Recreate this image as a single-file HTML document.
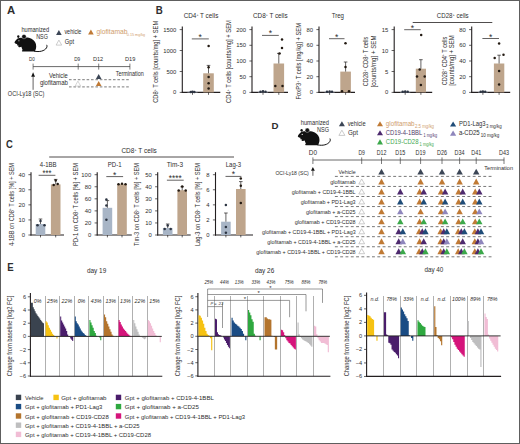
<!DOCTYPE html>
<html><head><meta charset="utf-8"><style>
html,body{margin:0;padding:0;background:#fff;}
svg{display:block;}
text{font-family:"Liberation Sans", sans-serif;}
</style></head><body>
<svg width="520" height="444" viewBox="0 0 520 444">
<rect x="0" y="0" width="520" height="444" fill="#fff"/>
<g fill="#2e2e2e">
<text x="7.00" y="13.60" font-size="10" textLength="8.20" lengthAdjust="spacingAndGlyphs" font-weight="bold">A</text>
<g transform="translate(0,0) scale(1.0)">
<path d="M14.5,42.8 C14.8,41.4 16.2,39.6 17.6,38.6 C19.2,37.5 21.5,37.4 23.0,38.0 C25.5,37.3 29.0,37.5 31.5,38.8 C34.6,40.4 36.3,43.2 36.2,46.4 C36.1,48.8 35.4,50.6 34.6,51.5 L22.4,51.5 C21.6,51.2 21.8,50.3 22.6,49.9 C22.0,48.8 21.6,47.6 21.4,46.8 C20.6,47.2 19.4,47.4 18.6,47.0 C18.0,46.6 18.3,46.0 19.0,45.7 C18.0,45.5 17.4,45.6 17.0,45.2 C16.7,44.8 17.0,44.4 17.6,44.2 C16.4,44.0 15.0,43.6 14.5,42.8 Z" fill="#111"/>
<ellipse cx="18.3" cy="36.6" rx="1.15" ry="1.4" fill="#111"/>
<circle cx="24.0" cy="36.6" r="2.2" fill="#111" stroke="#fff" stroke-width="0.35"/>
<circle cx="18.9" cy="40.7" r="0.55" fill="#fff"/>
<path d="M34.4,51.2 C39.5,52.3 44.5,51.0 46.4,48.0 C47.2,46.8 47.1,45.8 46.8,45.2" fill="none" stroke="#111" stroke-width="1.0" stroke-linecap="round"/>
</g>
<text x="21.40" y="31.80" font-size="6.4" textLength="27.80" lengthAdjust="spacingAndGlyphs">humanized</text>
<text x="36.20" y="38.50" font-size="6.8" textLength="11.70" lengthAdjust="spacingAndGlyphs">NSG</text>
<path d="M58.90,30.00L61.70,35.00L56.10,35.00Z" fill="#3c4656"/>
<text x="64.40" y="34.20" font-size="6.6" textLength="17.00" lengthAdjust="spacingAndGlyphs">vehicle</text>
<path d="M58.90,40.10L61.70,45.10L56.10,45.10Z" fill="none" stroke="#b8b8b8" stroke-width="0.7" stroke-linejoin="round"/>
<text x="64.80" y="43.90" font-size="6.6" textLength="9.20" lengthAdjust="spacingAndGlyphs">Gpt</text>
<path d="M90.90,29.60L93.70,34.60L88.10,34.60Z" fill="#c07a35"/>
<text x="96.50" y="34.00" font-size="6.6" textLength="31.00" lengthAdjust="spacingAndGlyphs" fill="#cf9d6c">glofitamab</text>
<text x="126.80" y="35.90" font-size="4.4" textLength="18.40" lengthAdjust="spacingAndGlyphs" fill="#cf9d6c">0.15 mg/kg</text>
<text x="32.00" y="61.00" font-size="6.0" text-anchor="middle" textLength="5.80" lengthAdjust="spacingAndGlyphs">D0</text>
<text x="77.20" y="61.00" font-size="6.0" text-anchor="middle" textLength="6.00" lengthAdjust="spacingAndGlyphs">D9</text>
<text x="98.00" y="61.00" font-size="6.0" text-anchor="middle" textLength="10.20" lengthAdjust="spacingAndGlyphs">D12</text>
<text x="130.10" y="61.00" font-size="6.0" text-anchor="middle" textLength="10.40" lengthAdjust="spacingAndGlyphs">D19</text>
<line x1="33.10" y1="66.60" x2="130.00" y2="66.60" stroke="#444" stroke-width="0.8"/>
<line x1="33.10" y1="63.60" x2="33.10" y2="69.60" stroke="#444" stroke-width="0.7"/>
<line x1="78.20" y1="63.60" x2="78.20" y2="69.60" stroke="#444" stroke-width="0.7"/>
<line x1="98.70" y1="63.60" x2="98.70" y2="69.60" stroke="#444" stroke-width="0.7"/>
<line x1="129.90" y1="63.60" x2="129.90" y2="69.60" stroke="#444" stroke-width="0.7"/>
<path d="M33.1,72.3 L35.0,76.8 L31.2,76.8 Z" fill="#111"/>
<line x1="33.10" y1="76.50" x2="33.10" y2="89.80" stroke="#231f20" stroke-width="0.7"/>
<text x="49.00" y="78.00" font-size="6.4" textLength="18.80" lengthAdjust="spacingAndGlyphs">Vehicle</text>
<text x="39.90" y="85.00" font-size="6.4" textLength="28.00" lengthAdjust="spacingAndGlyphs">glofitamab</text>
<text x="115.80" y="76.40" font-size="6.5" textLength="28.00" lengthAdjust="spacingAndGlyphs">Termination</text>
<text x="7.80" y="95.50" font-size="6.4" textLength="36.60" lengthAdjust="spacingAndGlyphs">OCI-Ly18 (SC)</text>
<line x1="69.00" y1="79.70" x2="130.50" y2="79.70" stroke="#444" stroke-width="0.7" stroke-dasharray="2.6 1.8"/>
<line x1="69.00" y1="86.90" x2="130.50" y2="86.90" stroke="#444" stroke-width="0.7" stroke-dasharray="2.6 1.8"/>
<path d="M98.70,73.90L101.50,78.90L95.90,78.90Z" fill="#3c4656"/>
<path d="M98.70,81.10L101.50,86.10L95.90,86.10Z" fill="#c07a35"/>
<path d="M77.90,81.10L80.70,86.10L75.10,86.10Z" fill="none" stroke="#c4c4c4" stroke-width="0.7" stroke-linejoin="round"/>
<text x="155.80" y="13.60" font-size="10" textLength="7.00" lengthAdjust="spacingAndGlyphs" font-weight="bold">B</text>
<line x1="182.30" y1="26.50" x2="182.30" y2="93.00" stroke="#231f20" stroke-width="1.1"/>
<line x1="181.80" y1="92.40" x2="220.30" y2="92.40" stroke="#231f20" stroke-width="1.1"/>
<line x1="179.70" y1="29.60" x2="182.30" y2="29.60" stroke="#231f20" stroke-width="0.7"/>
<text x="176.30" y="31.60" font-size="5.9" text-anchor="end">1500</text>
<line x1="179.70" y1="50.50" x2="182.30" y2="50.50" stroke="#231f20" stroke-width="0.7"/>
<text x="176.30" y="52.50" font-size="5.9" text-anchor="end">1000</text>
<line x1="179.70" y1="71.50" x2="182.30" y2="71.50" stroke="#231f20" stroke-width="0.7"/>
<text x="176.30" y="73.50" font-size="5.9" text-anchor="end">500</text>
<line x1="179.70" y1="92.40" x2="182.30" y2="92.40" stroke="#231f20" stroke-width="0.7"/>
<text x="176.30" y="94.40" font-size="5.9" text-anchor="end">0</text>
<rect x="187.40" y="91.80" width="10.20" height="0.60" fill="#a8b5c6"/>
<line x1="192.50" y1="92.40" x2="192.50" y2="94.80" stroke="#231f20" stroke-width="0.7"/>
<rect x="203.20" y="73.30" width="10.60" height="19.10" fill="#bea58c"/>
<line x1="208.50" y1="65.40" x2="208.50" y2="73.30" stroke="#231f20" stroke-width="0.7"/>
<line x1="206.70" y1="65.40" x2="210.30" y2="65.40" stroke="#231f20" stroke-width="0.7"/>
<line x1="208.50" y1="92.40" x2="208.50" y2="94.80" stroke="#231f20" stroke-width="0.7"/>
<circle cx="190.80" cy="92.00" r="1.25" fill="#2c3442"/>
<circle cx="192.50" cy="91.80" r="1.25" fill="#2c3442"/>
<circle cx="194.30" cy="92.00" r="1.25" fill="#2c3442"/>
<circle cx="208.60" cy="46.00" r="1.25" fill="#231a12"/>
<circle cx="208.60" cy="67.20" r="1.25" fill="#231a12"/>
<circle cx="208.60" cy="77.00" r="1.25" fill="#231a12"/>
<circle cx="208.60" cy="83.30" r="1.25" fill="#231a12"/>
<circle cx="208.60" cy="88.40" r="1.25" fill="#231a12"/>
<line x1="191.80" y1="38.90" x2="208.80" y2="38.90" stroke="#231f20" stroke-width="0.7"/>
<text x="200.30" y="39.90" font-size="8.6" text-anchor="middle">*</text>
<text x="183.70" y="17.80" font-size="8.0" textLength="34.60" lengthAdjust="spacingAndGlyphs">CD4<tspan font-size="4.4" dy="-2.2">+</tspan><tspan dy="2.2"> T cells</tspan></text>
<text x="158.30" y="61.80" font-size="7.7" text-anchor="middle" textLength="82.00" lengthAdjust="spacingAndGlyphs" transform="rotate(-90 158.30 61.80)">CD8<tspan font-size="4.4" dy="-2.2">+</tspan><tspan dy="2.2"> T cells [counts/mg] + SEM</tspan></text>
<line x1="252.00" y1="26.50" x2="252.00" y2="93.00" stroke="#231f20" stroke-width="1.1"/>
<line x1="251.50" y1="92.40" x2="288.00" y2="92.40" stroke="#231f20" stroke-width="1.1"/>
<line x1="249.40" y1="29.60" x2="252.00" y2="29.60" stroke="#231f20" stroke-width="0.7"/>
<text x="246.00" y="31.60" font-size="5.9" text-anchor="end">200</text>
<line x1="249.40" y1="45.30" x2="252.00" y2="45.30" stroke="#231f20" stroke-width="0.7"/>
<text x="246.00" y="47.30" font-size="5.9" text-anchor="end">150</text>
<line x1="249.40" y1="61.00" x2="252.00" y2="61.00" stroke="#231f20" stroke-width="0.7"/>
<text x="246.00" y="63.00" font-size="5.9" text-anchor="end">100</text>
<line x1="249.40" y1="76.70" x2="252.00" y2="76.70" stroke="#231f20" stroke-width="0.7"/>
<text x="246.00" y="78.70" font-size="5.9" text-anchor="end">50</text>
<line x1="249.40" y1="92.40" x2="252.00" y2="92.40" stroke="#231f20" stroke-width="0.7"/>
<text x="246.00" y="94.40" font-size="5.9" text-anchor="end">0</text>
<rect x="257.90" y="91.80" width="10.20" height="0.60" fill="#a8b5c6"/>
<line x1="263.00" y1="92.40" x2="263.00" y2="94.80" stroke="#231f20" stroke-width="0.7"/>
<rect x="273.50" y="63.50" width="10.60" height="28.90" fill="#bea58c"/>
<line x1="278.80" y1="53.40" x2="278.80" y2="63.50" stroke="#231f20" stroke-width="0.7"/>
<line x1="277.00" y1="53.40" x2="280.60" y2="53.40" stroke="#231f20" stroke-width="0.7"/>
<line x1="278.80" y1="92.40" x2="278.80" y2="94.80" stroke="#231f20" stroke-width="0.7"/>
<circle cx="260.50" cy="91.80" r="1.25" fill="#2c3442"/>
<circle cx="263.00" cy="91.20" r="1.25" fill="#2c3442"/>
<circle cx="265.50" cy="91.80" r="1.25" fill="#2c3442"/>
<circle cx="282.00" cy="39.60" r="1.25" fill="#231a12"/>
<circle cx="282.00" cy="48.00" r="1.25" fill="#231a12"/>
<circle cx="279.50" cy="53.60" r="1.25" fill="#231a12"/>
<circle cx="275.30" cy="86.00" r="1.25" fill="#231a12"/>
<circle cx="282.50" cy="86.00" r="1.25" fill="#231a12"/>
<line x1="262.00" y1="35.40" x2="278.80" y2="35.40" stroke="#231f20" stroke-width="0.7"/>
<text x="270.40" y="36.40" font-size="8.6" text-anchor="middle">*</text>
<text x="253.00" y="17.80" font-size="8.0" textLength="34.60" lengthAdjust="spacingAndGlyphs">CD8<tspan font-size="4.4" dy="-2.2">+</tspan><tspan dy="2.2"> T cells</tspan></text>
<text x="231.20" y="61.50" font-size="7.7" text-anchor="middle" textLength="83.00" lengthAdjust="spacingAndGlyphs" transform="rotate(-90 231.20 61.50)">CD4<tspan font-size="4.4" dy="-2.2">+</tspan><tspan dy="2.2"> T cells [counts/mg] + SEM</tspan></text>
<line x1="319.00" y1="26.50" x2="319.00" y2="93.00" stroke="#231f20" stroke-width="1.1"/>
<line x1="318.50" y1="92.40" x2="355.00" y2="92.40" stroke="#231f20" stroke-width="1.1"/>
<line x1="316.40" y1="29.60" x2="319.00" y2="29.60" stroke="#231f20" stroke-width="0.7"/>
<text x="313.00" y="31.60" font-size="5.9" text-anchor="end">80</text>
<line x1="316.40" y1="45.30" x2="319.00" y2="45.30" stroke="#231f20" stroke-width="0.7"/>
<text x="313.00" y="47.30" font-size="5.9" text-anchor="end">60</text>
<line x1="316.40" y1="61.00" x2="319.00" y2="61.00" stroke="#231f20" stroke-width="0.7"/>
<text x="313.00" y="63.00" font-size="5.9" text-anchor="end">40</text>
<line x1="316.40" y1="76.70" x2="319.00" y2="76.70" stroke="#231f20" stroke-width="0.7"/>
<text x="313.00" y="78.70" font-size="5.9" text-anchor="end">20</text>
<line x1="316.40" y1="92.40" x2="319.00" y2="92.40" stroke="#231f20" stroke-width="0.7"/>
<text x="313.00" y="94.40" font-size="5.9" text-anchor="end">0</text>
<rect x="324.50" y="91.80" width="10.20" height="0.60" fill="#a8b5c6"/>
<line x1="329.60" y1="92.40" x2="329.60" y2="94.80" stroke="#231f20" stroke-width="0.7"/>
<rect x="340.30" y="71.60" width="10.60" height="20.80" fill="#bea58c"/>
<line x1="345.60" y1="62.00" x2="345.60" y2="71.60" stroke="#231f20" stroke-width="0.7"/>
<line x1="343.80" y1="62.00" x2="347.40" y2="62.00" stroke="#231f20" stroke-width="0.7"/>
<line x1="345.60" y1="92.40" x2="345.60" y2="94.80" stroke="#231f20" stroke-width="0.7"/>
<circle cx="327.00" cy="91.80" r="1.25" fill="#2c3442"/>
<circle cx="329.60" cy="91.40" r="1.25" fill="#2c3442"/>
<circle cx="332.00" cy="91.80" r="1.25" fill="#2c3442"/>
<circle cx="345.50" cy="43.20" r="1.25" fill="#231a12"/>
<circle cx="345.50" cy="67.00" r="1.25" fill="#231a12"/>
<circle cx="342.00" cy="91.20" r="1.25" fill="#231a12"/>
<circle cx="349.00" cy="91.20" r="1.25" fill="#231a12"/>
<line x1="329.00" y1="38.70" x2="344.50" y2="38.70" stroke="#231f20" stroke-width="0.7"/>
<text x="336.75" y="39.70" font-size="8.6" text-anchor="middle">*</text>
<text x="331.70" y="17.80" font-size="8.0" textLength="12.30" lengthAdjust="spacingAndGlyphs">Treg</text>
<text x="301.30" y="61.20" font-size="7.7" text-anchor="middle" textLength="76.40" lengthAdjust="spacingAndGlyphs" transform="rotate(-90 301.30 61.20)">FoxP3<tspan font-size="4.4" dy="-2.2">+</tspan><tspan dy="2.2"> T cells [mg/kg] + SEM</tspan></text>
<line x1="394.20" y1="26.50" x2="394.20" y2="93.00" stroke="#231f20" stroke-width="1.1"/>
<line x1="393.70" y1="92.40" x2="432.20" y2="92.40" stroke="#231f20" stroke-width="1.1"/>
<line x1="391.60" y1="29.60" x2="394.20" y2="29.60" stroke="#231f20" stroke-width="0.7"/>
<text x="388.20" y="31.60" font-size="5.9" text-anchor="end">15</text>
<line x1="391.60" y1="50.50" x2="394.20" y2="50.50" stroke="#231f20" stroke-width="0.7"/>
<text x="388.20" y="52.50" font-size="5.9" text-anchor="end">10</text>
<line x1="391.60" y1="71.50" x2="394.20" y2="71.50" stroke="#231f20" stroke-width="0.7"/>
<text x="388.20" y="73.50" font-size="5.9" text-anchor="end">5</text>
<line x1="391.60" y1="92.40" x2="394.20" y2="92.40" stroke="#231f20" stroke-width="0.7"/>
<text x="388.20" y="94.40" font-size="5.9" text-anchor="end">0</text>
<rect x="400.10" y="91.80" width="10.20" height="0.60" fill="#a8b5c6"/>
<line x1="405.20" y1="92.40" x2="405.20" y2="94.80" stroke="#231f20" stroke-width="0.7"/>
<rect x="415.80" y="68.70" width="10.20" height="23.70" fill="#bea58c"/>
<line x1="420.90" y1="59.70" x2="420.90" y2="68.70" stroke="#231f20" stroke-width="0.7"/>
<line x1="419.10" y1="59.70" x2="422.70" y2="59.70" stroke="#231f20" stroke-width="0.7"/>
<line x1="420.90" y1="92.40" x2="420.90" y2="94.80" stroke="#231f20" stroke-width="0.7"/>
<circle cx="402.70" cy="91.80" r="1.25" fill="#2c3442"/>
<circle cx="405.20" cy="91.40" r="1.25" fill="#2c3442"/>
<circle cx="407.70" cy="91.80" r="1.25" fill="#2c3442"/>
<circle cx="421.20" cy="35.00" r="1.25" fill="#231a12"/>
<circle cx="417.00" cy="76.60" r="1.25" fill="#231a12"/>
<circle cx="424.70" cy="76.60" r="1.25" fill="#231a12"/>
<circle cx="420.90" cy="85.00" r="1.25" fill="#231a12"/>
<circle cx="419.70" cy="69.40" r="1.25" fill="#231a12"/>
<line x1="404.20" y1="29.70" x2="420.70" y2="29.70" stroke="#231f20" stroke-width="0.7"/>
<text x="412.45" y="30.70" font-size="8.6" text-anchor="middle">*</text>
<text x="368.40" y="61.50" font-size="6.4" text-anchor="middle" textLength="49.50" lengthAdjust="spacingAndGlyphs" transform="rotate(-90 368.40 61.50)">CD28<tspan font-size="4.4" dy="-2.2">+</tspan><tspan dy="2.2"> CD8</tspan><tspan font-size="4.4" dy="-2.2">+</tspan><tspan dy="2.2"> T cells</tspan></text>
<text x="376.30" y="61.50" font-size="6.4" text-anchor="middle" textLength="52.00" lengthAdjust="spacingAndGlyphs" transform="rotate(-90 376.30 61.50)">[counts/mg] + SEM</text>
<line x1="471.70" y1="26.50" x2="471.70" y2="93.00" stroke="#231f20" stroke-width="1.1"/>
<line x1="471.20" y1="92.40" x2="510.20" y2="92.40" stroke="#231f20" stroke-width="1.1"/>
<line x1="469.10" y1="29.60" x2="471.70" y2="29.60" stroke="#231f20" stroke-width="0.7"/>
<text x="465.70" y="31.60" font-size="5.9" text-anchor="end">80</text>
<line x1="469.10" y1="45.30" x2="471.70" y2="45.30" stroke="#231f20" stroke-width="0.7"/>
<text x="465.70" y="47.30" font-size="5.9" text-anchor="end">60</text>
<line x1="469.10" y1="61.00" x2="471.70" y2="61.00" stroke="#231f20" stroke-width="0.7"/>
<text x="465.70" y="63.00" font-size="5.9" text-anchor="end">40</text>
<line x1="469.10" y1="76.70" x2="471.70" y2="76.70" stroke="#231f20" stroke-width="0.7"/>
<text x="465.70" y="78.70" font-size="5.9" text-anchor="end">20</text>
<line x1="469.10" y1="92.40" x2="471.70" y2="92.40" stroke="#231f20" stroke-width="0.7"/>
<text x="465.70" y="94.40" font-size="5.9" text-anchor="end">0</text>
<rect x="478.10" y="91.80" width="9.60" height="0.60" fill="#a8b5c6"/>
<line x1="482.90" y1="92.40" x2="482.90" y2="94.80" stroke="#231f20" stroke-width="0.7"/>
<rect x="493.90" y="63.50" width="10.40" height="28.90" fill="#bea58c"/>
<line x1="499.10" y1="55.20" x2="499.10" y2="63.50" stroke="#231f20" stroke-width="0.7"/>
<line x1="497.30" y1="55.20" x2="500.90" y2="55.20" stroke="#231f20" stroke-width="0.7"/>
<line x1="499.10" y1="92.40" x2="499.10" y2="94.80" stroke="#231f20" stroke-width="0.7"/>
<circle cx="480.70" cy="91.80" r="1.25" fill="#2c3442"/>
<circle cx="482.90" cy="91.40" r="1.25" fill="#2c3442"/>
<circle cx="485.20" cy="91.80" r="1.25" fill="#2c3442"/>
<circle cx="499.10" cy="43.50" r="1.25" fill="#231a12"/>
<circle cx="494.70" cy="58.00" r="1.25" fill="#231a12"/>
<circle cx="503.50" cy="54.70" r="1.25" fill="#231a12"/>
<circle cx="499.10" cy="71.00" r="1.25" fill="#231a12"/>
<circle cx="499.10" cy="84.50" r="1.25" fill="#231a12"/>
<line x1="482.40" y1="38.50" x2="499.00" y2="38.50" stroke="#231f20" stroke-width="0.7"/>
<text x="490.70" y="39.50" font-size="8.6" text-anchor="middle">*</text>
<text x="446.50" y="61.00" font-size="6.4" text-anchor="middle" textLength="48.50" lengthAdjust="spacingAndGlyphs" transform="rotate(-90 446.50 61.00)">CD28<tspan font-size="4.4" dy="-2.2">+</tspan><tspan dy="2.2"> CD4</tspan><tspan font-size="4.4" dy="-2.2">+</tspan><tspan dy="2.2"> T cells</tspan></text>
<text x="454.00" y="60.60" font-size="6.4" text-anchor="middle" textLength="50.50" lengthAdjust="spacingAndGlyphs" transform="rotate(-90 454.00 60.60)">[counts/mg] + SEM</text>
<text x="436.80" y="18.00" font-size="6.9" textLength="31.90" lengthAdjust="spacingAndGlyphs">CD28<tspan font-size="4.4" dy="-2.2">+</tspan><tspan dy="2.2"> cells</tspan></text>
<line x1="412.70" y1="22.50" x2="492.30" y2="22.50" stroke="#231f20" stroke-width="0.8"/>
<text x="6.00" y="147.90" font-size="10" textLength="6.80" lengthAdjust="spacingAndGlyphs" font-weight="bold">C</text>
<text x="121.40" y="152.80" font-size="6.9" textLength="35.40" lengthAdjust="spacingAndGlyphs">CD8<tspan font-size="4.4" dy="-2.2">+</tspan><tspan dy="2.2"> T cells</tspan></text>
<line x1="49.20" y1="157.00" x2="234.00" y2="157.00" stroke="#231f20" stroke-width="0.8"/>
<line x1="31.00" y1="172.20" x2="31.00" y2="235.60" stroke="#231f20" stroke-width="1.1"/>
<line x1="30.50" y1="235.00" x2="64.00" y2="235.00" stroke="#231f20" stroke-width="1.1"/>
<line x1="28.40" y1="174.70" x2="31.00" y2="174.70" stroke="#231f20" stroke-width="0.7"/>
<text x="25.00" y="176.70" font-size="5.9" text-anchor="end">40</text>
<line x1="28.40" y1="189.77" x2="31.00" y2="189.77" stroke="#231f20" stroke-width="0.7"/>
<text x="25.00" y="191.77" font-size="5.9" text-anchor="end">30</text>
<line x1="28.40" y1="204.85" x2="31.00" y2="204.85" stroke="#231f20" stroke-width="0.7"/>
<text x="25.00" y="206.85" font-size="5.9" text-anchor="end">20</text>
<line x1="28.40" y1="219.93" x2="31.00" y2="219.93" stroke="#231f20" stroke-width="0.7"/>
<text x="25.00" y="221.93" font-size="5.9" text-anchor="end">10</text>
<line x1="28.40" y1="235.00" x2="31.00" y2="235.00" stroke="#231f20" stroke-width="0.7"/>
<text x="25.00" y="237.00" font-size="5.9" text-anchor="end">0</text>
<rect x="35.70" y="224.00" width="9.60" height="11.00" fill="#a8b5c6"/>
<line x1="40.50" y1="219.00" x2="40.50" y2="224.00" stroke="#231f20" stroke-width="0.7"/>
<line x1="38.70" y1="219.00" x2="42.30" y2="219.00" stroke="#231f20" stroke-width="0.7"/>
<line x1="40.50" y1="235.00" x2="40.50" y2="237.40" stroke="#231f20" stroke-width="0.7"/>
<rect x="50.90" y="184.40" width="9.60" height="50.60" fill="#bea58c"/>
<line x1="55.70" y1="179.40" x2="55.70" y2="184.40" stroke="#231f20" stroke-width="0.7"/>
<line x1="53.90" y1="179.40" x2="57.50" y2="179.40" stroke="#231f20" stroke-width="0.7"/>
<line x1="55.70" y1="235.00" x2="55.70" y2="237.40" stroke="#231f20" stroke-width="0.7"/>
<circle cx="40.50" cy="221.00" r="1.25" fill="#2c3442"/>
<circle cx="37.50" cy="225.20" r="1.25" fill="#2c3442"/>
<circle cx="44.50" cy="225.20" r="1.25" fill="#2c3442"/>
<circle cx="55.70" cy="180.60" r="1.25" fill="#231a12"/>
<circle cx="53.70" cy="185.00" r="1.25" fill="#231a12"/>
<circle cx="57.70" cy="184.00" r="1.25" fill="#231a12"/>
<line x1="38.60" y1="175.30" x2="55.40" y2="175.30" stroke="#231f20" stroke-width="0.7"/>
<text x="47.00" y="176.30" font-size="8.6" text-anchor="middle" textLength="8.90" lengthAdjust="spacingAndGlyphs">***</text>
<text x="39.80" y="167.00" font-size="8.0" textLength="16.70" lengthAdjust="spacingAndGlyphs">4-1BB</text>
<text x="13.60" y="204.50" font-size="7.5" text-anchor="middle" textLength="83.00" lengthAdjust="spacingAndGlyphs" transform="rotate(-90 13.60 204.50)">4-1BB on CD8<tspan font-size="4.4" dy="-2.2">+</tspan><tspan dy="2.2"> T cells [%] + SEM</tspan></text>
<line x1="97.20" y1="172.20" x2="97.20" y2="235.60" stroke="#231f20" stroke-width="1.1"/>
<line x1="96.70" y1="235.00" x2="131.80" y2="235.00" stroke="#231f20" stroke-width="1.1"/>
<line x1="94.60" y1="174.70" x2="97.20" y2="174.70" stroke="#231f20" stroke-width="0.7"/>
<text x="91.20" y="176.70" font-size="5.9" text-anchor="end">100</text>
<line x1="94.60" y1="186.76" x2="97.20" y2="186.76" stroke="#231f20" stroke-width="0.7"/>
<text x="91.20" y="188.76" font-size="5.9" text-anchor="end">80</text>
<line x1="94.60" y1="198.82" x2="97.20" y2="198.82" stroke="#231f20" stroke-width="0.7"/>
<text x="91.20" y="200.82" font-size="5.9" text-anchor="end">60</text>
<line x1="94.60" y1="210.88" x2="97.20" y2="210.88" stroke="#231f20" stroke-width="0.7"/>
<text x="91.20" y="212.88" font-size="5.9" text-anchor="end">40</text>
<line x1="94.60" y1="222.94" x2="97.20" y2="222.94" stroke="#231f20" stroke-width="0.7"/>
<text x="91.20" y="224.94" font-size="5.9" text-anchor="end">20</text>
<line x1="94.60" y1="235.00" x2="97.20" y2="235.00" stroke="#231f20" stroke-width="0.7"/>
<text x="91.20" y="237.00" font-size="5.9" text-anchor="end">0</text>
<rect x="102.60" y="207.80" width="9.60" height="27.20" fill="#a8b5c6"/>
<line x1="107.40" y1="200.60" x2="107.40" y2="207.80" stroke="#231f20" stroke-width="0.7"/>
<line x1="105.60" y1="200.60" x2="109.20" y2="200.60" stroke="#231f20" stroke-width="0.7"/>
<line x1="107.40" y1="235.00" x2="107.40" y2="237.40" stroke="#231f20" stroke-width="0.7"/>
<rect x="117.20" y="184.20" width="9.60" height="50.80" fill="#bea58c"/>
<line x1="122.00" y1="235.00" x2="122.00" y2="237.40" stroke="#231f20" stroke-width="0.7"/>
<circle cx="106.40" cy="199.40" r="1.25" fill="#2c3442"/>
<circle cx="106.40" cy="205.60" r="1.25" fill="#2c3442"/>
<circle cx="106.40" cy="219.70" r="1.25" fill="#2c3442"/>
<circle cx="118.50" cy="184.20" r="1.25" fill="#231a12"/>
<circle cx="122.00" cy="183.80" r="1.25" fill="#231a12"/>
<circle cx="125.50" cy="184.20" r="1.25" fill="#231a12"/>
<line x1="106.30" y1="176.60" x2="123.10" y2="176.60" stroke="#231f20" stroke-width="0.7"/>
<text x="114.70" y="177.60" font-size="8.6" text-anchor="middle">*</text>
<text x="107.80" y="167.00" font-size="8.0" textLength="13.80" lengthAdjust="spacingAndGlyphs">PD-1</text>
<text x="78.40" y="204.50" font-size="7.5" text-anchor="middle" textLength="83.00" lengthAdjust="spacingAndGlyphs" transform="rotate(-90 78.40 204.50)">PD-1 on CD8<tspan font-size="4.4" dy="-2.2">+</tspan><tspan dy="2.2"> T cells [%] + SEM</tspan></text>
<line x1="157.70" y1="172.20" x2="157.70" y2="235.60" stroke="#231f20" stroke-width="1.1"/>
<line x1="157.20" y1="235.00" x2="190.70" y2="235.00" stroke="#231f20" stroke-width="1.1"/>
<line x1="155.10" y1="174.70" x2="157.70" y2="174.70" stroke="#231f20" stroke-width="0.7"/>
<text x="151.70" y="176.70" font-size="5.9" text-anchor="end">50</text>
<line x1="155.10" y1="186.76" x2="157.70" y2="186.76" stroke="#231f20" stroke-width="0.7"/>
<text x="151.70" y="188.76" font-size="5.9" text-anchor="end">40</text>
<line x1="155.10" y1="198.82" x2="157.70" y2="198.82" stroke="#231f20" stroke-width="0.7"/>
<text x="151.70" y="200.82" font-size="5.9" text-anchor="end">30</text>
<line x1="155.10" y1="210.88" x2="157.70" y2="210.88" stroke="#231f20" stroke-width="0.7"/>
<text x="151.70" y="212.88" font-size="5.9" text-anchor="end">20</text>
<line x1="155.10" y1="222.94" x2="157.70" y2="222.94" stroke="#231f20" stroke-width="0.7"/>
<text x="151.70" y="224.94" font-size="5.9" text-anchor="end">10</text>
<line x1="155.10" y1="235.00" x2="157.70" y2="235.00" stroke="#231f20" stroke-width="0.7"/>
<text x="151.70" y="237.00" font-size="5.9" text-anchor="end">0</text>
<rect x="162.90" y="228.00" width="9.60" height="7.00" fill="#a8b5c6"/>
<line x1="167.70" y1="224.00" x2="167.70" y2="228.00" stroke="#231f20" stroke-width="0.7"/>
<line x1="165.90" y1="224.00" x2="169.50" y2="224.00" stroke="#231f20" stroke-width="0.7"/>
<line x1="167.70" y1="235.00" x2="167.70" y2="237.40" stroke="#231f20" stroke-width="0.7"/>
<rect x="177.40" y="190.20" width="9.60" height="44.80" fill="#bea58c"/>
<line x1="182.20" y1="186.80" x2="182.20" y2="190.20" stroke="#231f20" stroke-width="0.7"/>
<line x1="180.40" y1="186.80" x2="184.00" y2="186.80" stroke="#231f20" stroke-width="0.7"/>
<line x1="182.20" y1="235.00" x2="182.20" y2="237.40" stroke="#231f20" stroke-width="0.7"/>
<circle cx="167.70" cy="225.60" r="1.25" fill="#2c3442"/>
<circle cx="164.70" cy="229.00" r="1.25" fill="#2c3442"/>
<circle cx="170.70" cy="229.00" r="1.25" fill="#2c3442"/>
<circle cx="182.20" cy="186.60" r="1.25" fill="#231a12"/>
<circle cx="178.70" cy="190.40" r="1.25" fill="#231a12"/>
<circle cx="185.70" cy="190.40" r="1.25" fill="#231a12"/>
<line x1="166.90" y1="180.20" x2="183.70" y2="180.20" stroke="#231f20" stroke-width="0.7"/>
<text x="175.30" y="181.20" font-size="8.6" text-anchor="middle" textLength="12.90" lengthAdjust="spacingAndGlyphs">****</text>
<text x="166.80" y="167.00" font-size="8.0" textLength="16.30" lengthAdjust="spacingAndGlyphs">Tim-3</text>
<text x="138.80" y="204.50" font-size="7.5" text-anchor="middle" textLength="83.00" lengthAdjust="spacingAndGlyphs" transform="rotate(-90 138.80 204.50)">Tim-3 on CD8<tspan font-size="4.4" dy="-2.2">+</tspan><tspan dy="2.2"> T cells [%] + SEM</tspan></text>
<line x1="215.50" y1="172.20" x2="215.50" y2="235.60" stroke="#231f20" stroke-width="1.1"/>
<line x1="215.00" y1="235.00" x2="253.00" y2="235.00" stroke="#231f20" stroke-width="1.1"/>
<line x1="212.90" y1="174.70" x2="215.50" y2="174.70" stroke="#231f20" stroke-width="0.7"/>
<text x="209.50" y="176.70" font-size="5.9" text-anchor="end">8</text>
<line x1="212.90" y1="189.77" x2="215.50" y2="189.77" stroke="#231f20" stroke-width="0.7"/>
<text x="209.50" y="191.77" font-size="5.9" text-anchor="end">6</text>
<line x1="212.90" y1="204.85" x2="215.50" y2="204.85" stroke="#231f20" stroke-width="0.7"/>
<text x="209.50" y="206.85" font-size="5.9" text-anchor="end">4</text>
<line x1="212.90" y1="219.93" x2="215.50" y2="219.93" stroke="#231f20" stroke-width="0.7"/>
<text x="209.50" y="221.93" font-size="5.9" text-anchor="end">2</text>
<line x1="212.90" y1="235.00" x2="215.50" y2="235.00" stroke="#231f20" stroke-width="0.7"/>
<text x="209.50" y="237.00" font-size="5.9" text-anchor="end">0</text>
<rect x="221.10" y="221.70" width="9.60" height="13.30" fill="#a8b5c6"/>
<line x1="225.90" y1="213.00" x2="225.90" y2="221.70" stroke="#231f20" stroke-width="0.7"/>
<line x1="224.10" y1="213.00" x2="227.70" y2="213.00" stroke="#231f20" stroke-width="0.7"/>
<line x1="225.90" y1="235.00" x2="225.90" y2="237.40" stroke="#231f20" stroke-width="0.7"/>
<rect x="236.00" y="189.00" width="9.60" height="46.00" fill="#bea58c"/>
<line x1="240.80" y1="181.60" x2="240.80" y2="189.00" stroke="#231f20" stroke-width="0.7"/>
<line x1="239.00" y1="181.60" x2="242.60" y2="181.60" stroke="#231f20" stroke-width="0.7"/>
<line x1="240.80" y1="235.00" x2="240.80" y2="237.40" stroke="#231f20" stroke-width="0.7"/>
<circle cx="225.90" cy="204.90" r="1.25" fill="#2c3442"/>
<circle cx="225.90" cy="227.00" r="1.25" fill="#2c3442"/>
<circle cx="225.90" cy="232.80" r="1.25" fill="#2c3442"/>
<circle cx="240.80" cy="178.40" r="1.25" fill="#231a12"/>
<circle cx="240.80" cy="185.80" r="1.25" fill="#231a12"/>
<circle cx="240.80" cy="203.00" r="1.25" fill="#231a12"/>
<line x1="225.50" y1="176.40" x2="241.40" y2="176.40" stroke="#231f20" stroke-width="0.7"/>
<text x="233.45" y="177.40" font-size="8.6" text-anchor="middle">*</text>
<text x="225.80" y="167.00" font-size="8.0" textLength="15.30" lengthAdjust="spacingAndGlyphs">Lag-3</text>
<text x="200.20" y="204.50" font-size="7.5" text-anchor="middle" textLength="83.00" lengthAdjust="spacingAndGlyphs" transform="rotate(-90 200.20 204.50)">Lag-3 on CD8<tspan font-size="4.4" dy="-2.2">+</tspan><tspan dy="2.2"> T cells [%] + SEM</tspan></text>
<text x="271.40" y="128.60" font-size="9.6" textLength="7.00" lengthAdjust="spacingAndGlyphs" font-weight="bold">D</text>
<g transform="translate(283.3,93.7) scale(1.0)">
<path d="M14.5,42.8 C14.8,41.4 16.2,39.6 17.6,38.6 C19.2,37.5 21.5,37.4 23.0,38.0 C25.5,37.3 29.0,37.5 31.5,38.8 C34.6,40.4 36.3,43.2 36.2,46.4 C36.1,48.8 35.4,50.6 34.6,51.5 L22.4,51.5 C21.6,51.2 21.8,50.3 22.6,49.9 C22.0,48.8 21.6,47.6 21.4,46.8 C20.6,47.2 19.4,47.4 18.6,47.0 C18.0,46.6 18.3,46.0 19.0,45.7 C18.0,45.5 17.4,45.6 17.0,45.2 C16.7,44.8 17.0,44.4 17.6,44.2 C16.4,44.0 15.0,43.6 14.5,42.8 Z" fill="#111"/>
<ellipse cx="18.3" cy="36.6" rx="1.15" ry="1.4" fill="#111"/>
<circle cx="24.0" cy="36.6" r="2.2" fill="#111" stroke="#fff" stroke-width="0.35"/>
<circle cx="18.9" cy="40.7" r="0.55" fill="#fff"/>
<path d="M34.4,51.2 C39.5,52.3 44.5,51.0 46.4,48.0 C47.2,46.8 47.1,45.8 46.8,45.2" fill="none" stroke="#111" stroke-width="1.0" stroke-linecap="round"/>
</g>
<text x="300.70" y="124.60" font-size="6.4" textLength="28.30" lengthAdjust="spacingAndGlyphs">humanized</text>
<text x="317.00" y="131.60" font-size="6.8" textLength="12.00" lengthAdjust="spacingAndGlyphs">NSG</text>
<path d="M341.90,121.25L344.90,126.35L338.90,126.35Z" fill="#3c4656"/>
<text x="347.70" y="125.60" font-size="6.7" textLength="17.90" lengthAdjust="spacingAndGlyphs">vehicle</text>
<path d="M341.90,130.20L344.90,135.40L338.90,135.40Z" fill="none" stroke="#b4b4b4" stroke-width="0.7" stroke-linejoin="round"/>
<text x="348.00" y="134.60" font-size="6.7" textLength="10.00" lengthAdjust="spacingAndGlyphs">Gpt</text>
<path d="M380.00,121.25L383.00,126.35L377.00,126.35Z" fill="#c07a35"/>
<text x="385.80" y="125.60" font-size="6.7" textLength="28.80" lengthAdjust="spacingAndGlyphs" fill="#cf9d6c">glofitamab</text>
<text x="415.00" y="127.70" font-size="4.5" textLength="19.00" lengthAdjust="spacingAndGlyphs" fill="#cf9d6c">2.5 mg/kg</text>
<path d="M380.00,130.15L383.00,135.25L377.00,135.25Z" fill="#4d2a6e"/>
<text x="385.80" y="134.60" font-size="6.7" textLength="36.50" lengthAdjust="spacingAndGlyphs" fill="#4f3a6a">CD19-4-1BBL</text>
<text x="423.60" y="136.60" font-size="4.5" textLength="13.40" lengthAdjust="spacingAndGlyphs" fill="#4f3a6a">1 mg/kg</text>
<path d="M380.00,139.35L383.00,144.45L377.00,144.45Z" fill="#3ba84a"/>
<text x="385.80" y="143.80" font-size="6.7" textLength="32.70" lengthAdjust="spacingAndGlyphs" fill="#45a852">CD19-CD28</text>
<text x="419.60" y="145.80" font-size="4.5" textLength="14.20" lengthAdjust="spacingAndGlyphs" fill="#45a852">1 mg/kg</text>
<path d="M453.10,121.45L456.20,126.55L450.00,126.55Z" fill="#1f4c78"/>
<text x="459.00" y="125.80" font-size="6.7" textLength="26.50" lengthAdjust="spacingAndGlyphs">PD1-Lag3</text>
<text x="486.00" y="127.90" font-size="4.5" textLength="15.60" lengthAdjust="spacingAndGlyphs">3 mg/kg</text>
<path d="M453.10,130.55L456.20,135.65L450.00,135.65Z" fill="#8e86bc"/>
<text x="459.00" y="134.90" font-size="6.7" textLength="20.70" lengthAdjust="spacingAndGlyphs">a-CD25</text>
<text x="480.80" y="136.90" font-size="4.5" textLength="18.50" lengthAdjust="spacingAndGlyphs">10 mg/kg</text>
<text x="312.90" y="155.30" font-size="7.0" text-anchor="middle" textLength="8.20" lengthAdjust="spacingAndGlyphs">D0</text>
<line x1="312.90" y1="157.40" x2="312.90" y2="164.00" stroke="#444" stroke-width="0.7"/>
<text x="361.70" y="155.30" font-size="7.0" text-anchor="middle" textLength="6.50" lengthAdjust="spacingAndGlyphs">D9</text>
<line x1="361.70" y1="157.40" x2="361.70" y2="164.00" stroke="#444" stroke-width="0.7"/>
<text x="381.50" y="155.30" font-size="7.0" text-anchor="middle" textLength="9.70" lengthAdjust="spacingAndGlyphs">D12</text>
<line x1="381.50" y1="157.40" x2="381.50" y2="164.00" stroke="#444" stroke-width="0.7"/>
<text x="400.30" y="155.30" font-size="7.0" text-anchor="middle" textLength="10.00" lengthAdjust="spacingAndGlyphs">D15</text>
<line x1="400.30" y1="157.40" x2="400.30" y2="164.00" stroke="#444" stroke-width="0.7"/>
<text x="420.60" y="155.30" font-size="7.0" text-anchor="middle" textLength="10.00" lengthAdjust="spacingAndGlyphs">D19</text>
<line x1="420.60" y1="157.40" x2="420.60" y2="164.00" stroke="#444" stroke-width="0.7"/>
<text x="442.00" y="155.30" font-size="7.0" text-anchor="middle" textLength="10.00" lengthAdjust="spacingAndGlyphs">D26</text>
<line x1="442.00" y1="157.40" x2="442.00" y2="164.00" stroke="#444" stroke-width="0.7"/>
<text x="459.60" y="155.30" font-size="7.0" text-anchor="middle" textLength="10.00" lengthAdjust="spacingAndGlyphs">D34</text>
<line x1="459.60" y1="157.40" x2="459.60" y2="164.00" stroke="#444" stroke-width="0.7"/>
<text x="476.20" y="155.30" font-size="7.0" text-anchor="middle" textLength="10.00" lengthAdjust="spacingAndGlyphs">D41</text>
<line x1="476.20" y1="157.40" x2="476.20" y2="164.00" stroke="#444" stroke-width="0.7"/>
<text x="504.00" y="155.30" font-size="7.0" text-anchor="middle" textLength="10.00" lengthAdjust="spacingAndGlyphs">D43</text>
<line x1="504.00" y1="157.40" x2="504.00" y2="164.00" stroke="#444" stroke-width="0.7"/>
<line x1="312.90" y1="160.00" x2="504.20" y2="160.00" stroke="#444" stroke-width="0.8"/>
<text x="484.30" y="170.20" font-size="6.2" textLength="28.70" lengthAdjust="spacingAndGlyphs">Termination</text>
<path d="M312.9,167.0 L314.8,170.8 L311.0,170.8 Z" fill="#111"/>
<line x1="312.90" y1="170.50" x2="312.90" y2="175.80" stroke="#231f20" stroke-width="0.7"/>
<text x="275.40" y="175.00" font-size="6.2" textLength="33.40" lengthAdjust="spacingAndGlyphs">OCI-Ly18 (SC)</text>
<text x="355.60" y="173.80" font-size="5.9" text-anchor="end" textLength="17.10" lengthAdjust="spacingAndGlyphs">Vehicle</text>
<line x1="334.90" y1="176.40" x2="492.40" y2="176.40" stroke="#555" stroke-width="0.8" stroke-dasharray="2.9 2.4"/>
<text x="355.60" y="183.77" font-size="5.9" text-anchor="end" textLength="25.40" lengthAdjust="spacingAndGlyphs">glofitamab</text>
<line x1="334.90" y1="186.45" x2="492.40" y2="186.45" stroke="#555" stroke-width="0.8" stroke-dasharray="2.9 2.4"/>
<text x="355.60" y="193.74" font-size="5.9" text-anchor="end" textLength="63.90" lengthAdjust="spacingAndGlyphs">glofitamab + CD19-4-1BBL</text>
<line x1="334.90" y1="196.50" x2="492.40" y2="196.50" stroke="#555" stroke-width="0.8" stroke-dasharray="2.9 2.4"/>
<text x="355.60" y="203.71" font-size="5.9" text-anchor="end" textLength="54.90" lengthAdjust="spacingAndGlyphs">glofitamab + PD1-Lag3</text>
<line x1="334.90" y1="206.55" x2="492.40" y2="206.55" stroke="#555" stroke-width="0.8" stroke-dasharray="2.9 2.4"/>
<text x="355.60" y="213.68" font-size="5.9" text-anchor="end" textLength="49.60" lengthAdjust="spacingAndGlyphs">glofitamab + a-CD25</text>
<line x1="334.90" y1="216.60" x2="492.40" y2="216.60" stroke="#555" stroke-width="0.8" stroke-dasharray="2.9 2.4"/>
<text x="355.60" y="223.65" font-size="5.9" text-anchor="end" textLength="60.80" lengthAdjust="spacingAndGlyphs">glofitamab + CD19-CD28</text>
<line x1="334.90" y1="226.65" x2="492.40" y2="226.65" stroke="#555" stroke-width="0.8" stroke-dasharray="2.9 2.4"/>
<text x="355.60" y="233.62" font-size="5.9" text-anchor="end" textLength="93.60" lengthAdjust="spacingAndGlyphs">glofitamab + CD19-4-1BBL + PD1-Lag3</text>
<line x1="334.90" y1="236.70" x2="492.40" y2="236.70" stroke="#555" stroke-width="0.8" stroke-dasharray="2.9 2.4"/>
<text x="355.60" y="243.59" font-size="5.9" text-anchor="end" textLength="88.30" lengthAdjust="spacingAndGlyphs">glofitamab + CD19-4-1BBL + a-CD25</text>
<line x1="334.90" y1="246.75" x2="492.40" y2="246.75" stroke="#555" stroke-width="0.8" stroke-dasharray="2.9 2.4"/>
<text x="355.60" y="253.56" font-size="5.9" text-anchor="end" textLength="99.30" lengthAdjust="spacingAndGlyphs">glofitamab + CD19-4-1BBL + CD19-CD28</text>
<line x1="334.90" y1="256.80" x2="492.40" y2="256.80" stroke="#555" stroke-width="0.8" stroke-dasharray="2.9 2.4"/>
<path d="M381.50,168.65L384.75,174.55L378.25,174.55Z" fill="#3c4656"/>
<path d="M420.60,168.65L423.85,174.55L417.35,174.55Z" fill="#3c4656"/>
<path d="M442.00,168.65L445.25,174.55L438.75,174.55Z" fill="#3c4656"/>
<path d="M459.60,168.65L462.85,174.55L456.35,174.55Z" fill="#3c4656"/>
<path d="M476.20,168.65L479.45,174.55L472.95,174.55Z" fill="#3c4656"/>
<path d="M361.70,178.95L364.60,184.05L358.80,184.05Z" fill="none" stroke="#b4b4b4" stroke-width="0.7"/>
<path d="M381.50,178.60L384.75,184.50L378.25,184.50Z" fill="#c07a35"/>
<path d="M361.70,188.90L364.60,194.00L358.80,194.00Z" fill="none" stroke="#b4b4b4" stroke-width="0.7"/>
<path d="M381.50,188.55L384.75,194.45L378.25,194.45Z" fill="#c07a35"/>
<path d="M361.70,198.85L364.60,203.95L358.80,203.95Z" fill="none" stroke="#b4b4b4" stroke-width="0.7"/>
<path d="M381.50,198.50L384.75,204.40L378.25,204.40Z" fill="#c07a35"/>
<path d="M361.70,208.80L364.60,213.90L358.80,213.90Z" fill="none" stroke="#b4b4b4" stroke-width="0.7"/>
<path d="M381.50,208.45L384.75,214.35L378.25,214.35Z" fill="#c07a35"/>
<path d="M361.70,218.75L364.60,223.85L358.80,223.85Z" fill="none" stroke="#b4b4b4" stroke-width="0.7"/>
<path d="M381.50,218.40L384.75,224.30L378.25,224.30Z" fill="#c07a35"/>
<path d="M361.70,228.70L364.60,233.80L358.80,233.80Z" fill="none" stroke="#b4b4b4" stroke-width="0.7"/>
<path d="M381.50,228.35L384.75,234.25L378.25,234.25Z" fill="#c07a35"/>
<path d="M361.70,238.65L364.60,243.75L358.80,243.75Z" fill="none" stroke="#b4b4b4" stroke-width="0.7"/>
<path d="M381.50,238.30L384.75,244.20L378.25,244.20Z" fill="#c07a35"/>
<path d="M361.70,248.60L364.60,253.70L358.80,253.70Z" fill="none" stroke="#b4b4b4" stroke-width="0.7"/>
<path d="M381.50,248.25L384.75,254.15L378.25,254.15Z" fill="#c07a35"/>
<path d="M420.60,178.60L423.85,184.50L417.35,184.50Z" fill="#c07a35"/>
<path d="M442.00,178.60L445.25,184.50L438.75,184.50Z" fill="#c07a35"/>
<path d="M459.60,178.60L462.85,184.50L456.35,184.50Z" fill="#c07a35"/>
<path d="M476.20,178.60L479.45,184.50L472.95,184.50Z" fill="#c07a35"/>
<path d="M400.30,188.55L403.55,194.45L397.05,194.45Z" fill="#4d2a6e"/>
<path d="M419.60,188.55L422.85,194.45L416.35,194.45Z" fill="#c07a35"/>
<path d="M423.70,188.55L426.95,194.45L420.45,194.45Z" fill="#4d2a6e"/>
<path d="M441.00,188.55L444.25,194.45L437.75,194.45Z" fill="#c07a35"/>
<path d="M445.10,188.55L448.35,194.45L441.85,194.45Z" fill="#4d2a6e"/>
<path d="M458.60,188.55L461.85,194.45L455.35,194.45Z" fill="#c07a35"/>
<path d="M462.70,188.55L465.95,194.45L459.45,194.45Z" fill="#4d2a6e"/>
<path d="M475.20,188.55L478.45,194.45L471.95,194.45Z" fill="#c07a35"/>
<path d="M479.30,188.55L482.55,194.45L476.05,194.45Z" fill="#4d2a6e"/>
<path d="M400.30,198.50L403.55,204.40L397.05,204.40Z" fill="#1f4c78"/>
<path d="M419.60,198.50L422.85,204.40L416.35,204.40Z" fill="#c07a35"/>
<path d="M423.70,198.50L426.95,204.40L420.45,204.40Z" fill="#1f4c78"/>
<path d="M441.00,198.50L444.25,204.40L437.75,204.40Z" fill="#c07a35"/>
<path d="M445.10,198.50L448.35,204.40L441.85,204.40Z" fill="#1f4c78"/>
<path d="M458.60,198.50L461.85,204.40L455.35,204.40Z" fill="#c07a35"/>
<path d="M462.70,198.50L465.95,204.40L459.45,204.40Z" fill="#1f4c78"/>
<path d="M475.20,198.50L478.45,204.40L471.95,204.40Z" fill="#c07a35"/>
<path d="M479.30,198.50L482.55,204.40L476.05,204.40Z" fill="#1f4c78"/>
<path d="M400.30,208.45L403.55,214.35L397.05,214.35Z" fill="#8e86bc"/>
<path d="M420.60,208.45L423.85,214.35L417.35,214.35Z" fill="#c07a35"/>
<path d="M441.00,208.45L444.25,214.35L437.75,214.35Z" fill="#c07a35"/>
<path d="M445.10,208.45L448.35,214.35L441.85,214.35Z" fill="#8e86bc"/>
<path d="M459.60,208.45L462.85,214.35L456.35,214.35Z" fill="#c07a35"/>
<path d="M475.20,208.45L478.45,214.35L471.95,214.35Z" fill="#c07a35"/>
<path d="M479.30,208.45L482.55,214.35L476.05,214.35Z" fill="#8e86bc"/>
<path d="M400.30,218.40L403.55,224.30L397.05,224.30Z" fill="#3ba84a"/>
<path d="M419.60,218.40L422.85,224.30L416.35,224.30Z" fill="#c07a35"/>
<path d="M423.70,218.40L426.95,224.30L420.45,224.30Z" fill="#3ba84a"/>
<path d="M441.00,218.40L444.25,224.30L437.75,224.30Z" fill="#c07a35"/>
<path d="M445.10,218.40L448.35,224.30L441.85,224.30Z" fill="#3ba84a"/>
<path d="M458.60,218.40L461.85,224.30L455.35,224.30Z" fill="#c07a35"/>
<path d="M462.70,218.40L465.95,224.30L459.45,224.30Z" fill="#3ba84a"/>
<path d="M475.20,218.40L478.45,224.30L471.95,224.30Z" fill="#c07a35"/>
<path d="M479.30,218.40L482.55,224.30L476.05,224.30Z" fill="#3ba84a"/>
<path d="M398.70,228.35L401.95,234.25L395.45,234.25Z" fill="#4d2a6e"/>
<path d="M402.80,228.35L406.05,234.25L399.55,234.25Z" fill="#1f4c78"/>
<path d="M419.20,228.35L422.45,234.25L415.95,234.25Z" fill="#c07a35"/>
<path d="M422.30,228.35L425.55,234.25L419.05,234.25Z" fill="#4d2a6e"/>
<path d="M425.40,228.35L428.65,234.25L422.15,234.25Z" fill="#1f4c78"/>
<path d="M440.60,228.35L443.85,234.25L437.35,234.25Z" fill="#c07a35"/>
<path d="M443.70,228.35L446.95,234.25L440.45,234.25Z" fill="#4d2a6e"/>
<path d="M446.80,228.35L450.05,234.25L443.55,234.25Z" fill="#1f4c78"/>
<path d="M458.20,228.35L461.45,234.25L454.95,234.25Z" fill="#c07a35"/>
<path d="M461.30,228.35L464.55,234.25L458.05,234.25Z" fill="#4d2a6e"/>
<path d="M464.40,228.35L467.65,234.25L461.15,234.25Z" fill="#1f4c78"/>
<path d="M474.80,228.35L478.05,234.25L471.55,234.25Z" fill="#c07a35"/>
<path d="M477.90,228.35L481.15,234.25L474.65,234.25Z" fill="#4d2a6e"/>
<path d="M481.00,228.35L484.25,234.25L477.75,234.25Z" fill="#1f4c78"/>
<path d="M398.70,238.30L401.95,244.20L395.45,244.20Z" fill="#4d2a6e"/>
<path d="M402.80,238.30L406.05,244.20L399.55,244.20Z" fill="#8e86bc"/>
<path d="M419.60,238.30L422.85,244.20L416.35,244.20Z" fill="#c07a35"/>
<path d="M423.70,238.30L426.95,244.20L420.45,244.20Z" fill="#4d2a6e"/>
<path d="M440.60,238.30L443.85,244.20L437.35,244.20Z" fill="#c07a35"/>
<path d="M443.70,238.30L446.95,244.20L440.45,244.20Z" fill="#4d2a6e"/>
<path d="M446.80,238.30L450.05,244.20L443.55,244.20Z" fill="#8e86bc"/>
<path d="M458.60,238.30L461.85,244.20L455.35,244.20Z" fill="#c07a35"/>
<path d="M462.70,238.30L465.95,244.20L459.45,244.20Z" fill="#4d2a6e"/>
<path d="M474.80,238.30L478.05,244.20L471.55,244.20Z" fill="#c07a35"/>
<path d="M477.90,238.30L481.15,244.20L474.65,244.20Z" fill="#4d2a6e"/>
<path d="M481.00,238.30L484.25,244.20L477.75,244.20Z" fill="#8e86bc"/>
<path d="M398.70,248.25L401.95,254.15L395.45,254.15Z" fill="#4d2a6e"/>
<path d="M402.80,248.25L406.05,254.15L399.55,254.15Z" fill="#3ba84a"/>
<path d="M419.20,248.25L422.45,254.15L415.95,254.15Z" fill="#c07a35"/>
<path d="M422.30,248.25L425.55,254.15L419.05,254.15Z" fill="#4d2a6e"/>
<path d="M425.40,248.25L428.65,254.15L422.15,254.15Z" fill="#3ba84a"/>
<path d="M440.60,248.25L443.85,254.15L437.35,254.15Z" fill="#c07a35"/>
<path d="M443.70,248.25L446.95,254.15L440.45,254.15Z" fill="#4d2a6e"/>
<path d="M446.80,248.25L450.05,254.15L443.55,254.15Z" fill="#3ba84a"/>
<path d="M458.20,248.25L461.45,254.15L454.95,254.15Z" fill="#c07a35"/>
<path d="M461.30,248.25L464.55,254.15L458.05,254.15Z" fill="#4d2a6e"/>
<path d="M464.40,248.25L467.65,254.15L461.15,254.15Z" fill="#3ba84a"/>
<path d="M474.80,248.25L478.05,254.15L471.55,254.15Z" fill="#c07a35"/>
<path d="M477.90,248.25L481.15,254.15L474.65,254.15Z" fill="#4d2a6e"/>
<path d="M481.00,248.25L484.25,254.15L477.75,254.15Z" fill="#3ba84a"/>
<text x="7.30" y="271.00" font-size="10" textLength="6.40" lengthAdjust="spacingAndGlyphs" font-weight="bold">E</text>
<text x="87.00" y="272.60" font-size="6.3" textLength="19.20" lengthAdjust="spacingAndGlyphs">day 19</text>
<text x="255.00" y="272.60" font-size="6.3" textLength="19.20" lengthAdjust="spacingAndGlyphs">day 26</text>
<text x="424.40" y="272.40" font-size="6.3" textLength="19.00" lengthAdjust="spacingAndGlyphs">day 40</text>
<text x="11.60" y="336.00" font-size="7.6" text-anchor="middle" textLength="80.50" lengthAdjust="spacingAndGlyphs" transform="rotate(-90 11.60 336.00)">Change from baseline [log2 FC]</text>
<text x="180.20" y="336.00" font-size="7.6" text-anchor="middle" textLength="80.50" lengthAdjust="spacingAndGlyphs" transform="rotate(-90 180.20 336.00)">Change from baseline [log2 FC]</text>
<text x="348.60" y="336.00" font-size="7.6" text-anchor="middle" textLength="80.50" lengthAdjust="spacingAndGlyphs" transform="rotate(-90 348.60 336.00)">Change from baseline [log2 FC]</text>
<line x1="30.40" y1="293.00" x2="30.40" y2="376.70" stroke="#231f20" stroke-width="1.1"/>
<line x1="27.80" y1="296.80" x2="30.40" y2="296.80" stroke="#231f20" stroke-width="0.7"/>
<text x="26.00" y="298.80" font-size="5.6" text-anchor="end">6</text>
<line x1="27.80" y1="310.00" x2="30.40" y2="310.00" stroke="#231f20" stroke-width="0.7"/>
<text x="26.00" y="312.00" font-size="5.6" text-anchor="end">4</text>
<line x1="27.80" y1="323.20" x2="30.40" y2="323.20" stroke="#231f20" stroke-width="0.7"/>
<text x="26.00" y="325.20" font-size="5.6" text-anchor="end">2</text>
<line x1="27.80" y1="336.40" x2="30.40" y2="336.40" stroke="#231f20" stroke-width="0.7"/>
<text x="26.00" y="338.40" font-size="5.6" text-anchor="end">0</text>
<line x1="27.80" y1="349.60" x2="30.40" y2="349.60" stroke="#231f20" stroke-width="0.7"/>
<text x="26.00" y="351.60" font-size="5.6" text-anchor="end">−2</text>
<line x1="27.80" y1="362.80" x2="30.40" y2="362.80" stroke="#231f20" stroke-width="0.7"/>
<text x="26.00" y="364.80" font-size="5.6" text-anchor="end">−4</text>
<line x1="27.80" y1="376.00" x2="30.40" y2="376.00" stroke="#231f20" stroke-width="0.7"/>
<text x="26.00" y="378.00" font-size="5.6" text-anchor="end">−6</text>
<path d="M31.00,336.40L31.00,302.74L31.93,302.74L31.93,302.74L32.86,302.74L32.86,307.36L33.79,307.36L33.79,309.34L34.71,309.34L34.71,311.32L35.64,311.32L35.64,313.30L36.57,313.30L36.57,314.62L37.50,314.62L37.50,315.94L38.43,315.94L38.43,317.26L39.36,317.26L39.36,318.58L40.29,318.58L40.29,319.90L41.21,319.90L41.21,321.22L42.14,321.22L42.14,322.54L43.07,322.54L43.07,323.20L44.00,323.20L44.00,336.40Z" fill="#3a434f"/>
<text x="37.70" y="303.30" font-size="5.3" text-anchor="middle" font-style="italic">0%</text>
<line x1="45.50" y1="296.00" x2="45.50" y2="376.20" stroke="#9c9c9c" stroke-width="0.8"/>
<path d="M45.60,336.40L45.60,321.22L46.68,321.22L46.68,322.54L47.77,322.54L47.77,325.18L48.85,325.18L48.85,327.82L49.93,327.82L49.93,329.80L51.02,329.80L51.02,331.78L52.10,331.78L52.10,333.76L53.18,333.76L53.18,335.08L54.27,335.08L54.27,336.07L55.35,336.07L55.35,336.40L56.43,336.40L56.43,338.38L57.52,338.38L57.52,336.40L58.60,336.40L58.60,336.40Z" fill="#f6c212"/>
<text x="52.30" y="303.30" font-size="5.3" text-anchor="middle" font-style="italic">25%</text>
<line x1="59.50" y1="296.00" x2="59.50" y2="376.20" stroke="#9c9c9c" stroke-width="0.8"/>
<path d="M60.20,336.40L60.20,316.60L61.20,316.60L61.20,320.56L62.20,320.56L62.20,322.54L63.20,322.54L63.20,324.52L64.20,324.52L64.20,326.50L65.20,326.50L65.20,328.48L66.20,328.48L66.20,331.12L67.20,331.12L67.20,334.42L68.20,334.42L68.20,336.07L69.20,336.07L69.20,337.06L70.20,337.06L70.20,338.38L71.20,338.38L71.20,339.70L72.20,339.70L72.20,341.02L73.20,341.02L73.20,336.40Z" fill="#4a1d6b"/>
<text x="66.90" y="303.30" font-size="5.3" text-anchor="middle" font-style="italic">22%</text>
<line x1="74.50" y1="296.00" x2="74.50" y2="376.20" stroke="#9c9c9c" stroke-width="0.8"/>
<path d="M74.80,336.40L74.80,316.60L75.80,316.60L75.80,321.22L76.80,321.22L76.80,323.20L77.80,323.20L77.80,324.52L78.80,324.52L78.80,326.50L79.80,326.50L79.80,328.48L80.80,328.48L80.80,330.46L81.80,330.46L81.80,331.78L82.80,331.78L82.80,333.10L83.80,333.10L83.80,333.76L84.80,333.76L84.80,335.08L85.80,335.08L85.80,335.74L86.80,335.74L86.80,336.07L87.80,336.07L87.80,336.40Z" fill="#1a4c84"/>
<text x="81.50" y="303.30" font-size="5.3" text-anchor="middle" font-style="italic">0%</text>
<line x1="88.50" y1="296.00" x2="88.50" y2="376.20" stroke="#9c9c9c" stroke-width="0.8"/>
<path d="M89.40,336.40L89.40,319.90L90.48,319.90L90.48,322.54L91.57,322.54L91.57,325.18L92.65,325.18L92.65,327.82L93.73,327.82L93.73,331.12L94.82,331.12L94.82,333.10L95.90,333.10L95.90,335.74L96.98,335.74L96.98,336.40L98.07,336.40L98.07,336.40L99.15,336.40L99.15,337.39L100.23,337.39L100.23,340.36L101.32,340.36L101.32,336.40L102.40,336.40L102.40,336.40Z" fill="#2ea83f"/>
<text x="96.10" y="303.30" font-size="5.3" text-anchor="middle" font-style="italic">43%</text>
<line x1="103.50" y1="296.00" x2="103.50" y2="376.20" stroke="#9c9c9c" stroke-width="0.8"/>
<path d="M104.00,336.40L104.00,314.62L105.08,314.62L105.08,317.26L106.17,317.26L106.17,321.22L107.25,321.22L107.25,323.86L108.33,323.86L108.33,326.50L109.42,326.50L109.42,329.14L110.50,329.14L110.50,331.78L111.58,331.78L111.58,334.42L112.67,334.42L112.67,335.74L113.75,335.74L113.75,336.40L114.83,336.40L114.83,336.40L115.92,336.40L115.92,337.06L117.00,337.06L117.00,336.40Z" fill="#b3742d"/>
<text x="110.70" y="303.30" font-size="5.3" text-anchor="middle" font-style="italic">13%</text>
<line x1="118.50" y1="296.00" x2="118.50" y2="376.20" stroke="#9c9c9c" stroke-width="0.8"/>
<path d="M118.60,336.40L118.60,319.90L119.68,319.90L119.68,321.88L120.77,321.88L120.77,324.52L121.85,324.52L121.85,326.50L122.93,326.50L122.93,328.48L124.02,328.48L124.02,329.80L125.10,329.80L125.10,331.12L126.18,331.12L126.18,332.44L127.27,332.44L127.27,333.76L128.35,333.76L128.35,334.75L129.43,334.75L129.43,335.74L130.52,335.74L130.52,336.07L131.60,336.07L131.60,336.40Z" fill="#d5147b"/>
<text x="125.30" y="303.30" font-size="5.3" text-anchor="middle" font-style="italic">13%</text>
<line x1="132.50" y1="296.00" x2="132.50" y2="376.20" stroke="#9c9c9c" stroke-width="0.8"/>
<path d="M133.20,336.40L133.20,319.90L134.28,319.90L134.28,323.20L135.37,323.20L135.37,326.50L136.45,326.50L136.45,329.14L137.53,329.14L137.53,331.78L138.62,331.78L138.62,334.42L139.70,334.42L139.70,336.07L140.78,336.07L140.78,337.06L141.87,337.06L141.87,337.72L142.95,337.72L142.95,338.38L144.03,338.38L144.03,339.37L145.12,339.37L145.12,338.38L146.20,338.38L146.20,336.40Z" fill="#bebebf"/>
<text x="139.90" y="303.30" font-size="5.3" text-anchor="middle" font-style="italic">22%</text>
<line x1="147.50" y1="296.00" x2="147.50" y2="376.20" stroke="#9c9c9c" stroke-width="0.8"/>
<path d="M147.80,336.40L147.80,319.90L148.88,319.90L148.88,321.22L149.97,321.22L149.97,323.20L151.05,323.20L151.05,325.84L152.13,325.84L152.13,328.48L153.22,328.48L153.22,331.12L154.30,331.12L154.30,333.10L155.38,333.10L155.38,335.08L156.47,335.08L156.47,336.07L157.55,336.07L157.55,336.40L158.63,336.40L158.63,337.06L159.72,337.06L159.72,342.34L160.80,342.34L160.80,336.40Z" fill="#f1bdd5"/>
<text x="154.50" y="303.30" font-size="5.3" text-anchor="middle" font-style="italic">15%</text>
<line x1="30.40" y1="336.40" x2="161.80" y2="336.40" stroke="#231f20" stroke-width="0.9"/>
<line x1="29.90" y1="376.20" x2="162.30" y2="376.20" stroke="#231f20" stroke-width="1.1"/>
<line x1="197.90" y1="293.00" x2="197.90" y2="376.70" stroke="#231f20" stroke-width="1.1"/>
<line x1="195.30" y1="296.70" x2="197.90" y2="296.70" stroke="#231f20" stroke-width="0.7"/>
<text x="193.50" y="298.70" font-size="5.6" text-anchor="end">6</text>
<line x1="195.30" y1="309.90" x2="197.90" y2="309.90" stroke="#231f20" stroke-width="0.7"/>
<text x="193.50" y="311.90" font-size="5.6" text-anchor="end">4</text>
<line x1="195.30" y1="323.10" x2="197.90" y2="323.10" stroke="#231f20" stroke-width="0.7"/>
<text x="193.50" y="325.10" font-size="5.6" text-anchor="end">2</text>
<line x1="195.30" y1="336.30" x2="197.90" y2="336.30" stroke="#231f20" stroke-width="0.7"/>
<text x="193.50" y="338.30" font-size="5.6" text-anchor="end">0</text>
<line x1="195.30" y1="349.50" x2="197.90" y2="349.50" stroke="#231f20" stroke-width="0.7"/>
<text x="193.50" y="351.50" font-size="5.6" text-anchor="end">−2</text>
<line x1="195.30" y1="362.70" x2="197.90" y2="362.70" stroke="#231f20" stroke-width="0.7"/>
<text x="193.50" y="364.70" font-size="5.6" text-anchor="end">−4</text>
<line x1="195.30" y1="375.90" x2="197.90" y2="375.90" stroke="#231f20" stroke-width="0.7"/>
<text x="193.50" y="377.90" font-size="5.6" text-anchor="end">−6</text>
<path d="M198.50,336.30L198.50,315.18L199.65,315.18L199.65,315.84L200.80,315.84L200.80,317.82L201.95,317.82L201.95,320.46L203.10,320.46L203.10,323.76L204.25,323.76L204.25,327.72L205.40,327.72L205.40,331.02L206.55,331.02L206.55,333.66L207.70,333.66L207.70,334.98L208.85,334.98L208.85,335.64L210.00,335.64L210.00,338.28L211.15,338.28L211.15,350.16L212.30,350.16L212.30,336.30Z" fill="#f6c212"/>
<line x1="214.50" y1="296.00" x2="214.50" y2="376.20" stroke="#9c9c9c" stroke-width="0.8"/>
<path d="M215.00,336.30L215.00,318.81L215.99,318.81L215.99,319.14L216.99,319.14L216.99,332.34L217.98,332.34L217.98,334.32L218.97,334.32L218.97,334.98L219.97,334.98L219.97,335.31L220.96,335.31L220.96,335.64L221.95,335.64L221.95,336.30L222.95,336.30L222.95,337.62L223.94,337.62L223.94,339.60L224.93,339.60L224.93,340.92L225.93,340.92L225.93,342.90L226.92,342.90L226.92,344.88L227.91,344.88L227.91,346.86L228.91,346.86L228.91,348.18L229.90,348.18L229.90,336.30Z" fill="#4a1d6b"/>
<line x1="230.50" y1="296.00" x2="230.50" y2="376.20" stroke="#9c9c9c" stroke-width="0.8"/>
<path d="M231.50,336.30L231.50,317.82L232.65,317.82L232.65,320.46L233.79,320.46L233.79,322.44L234.94,322.44L234.94,323.76L236.08,323.76L236.08,324.42L237.23,324.42L237.23,325.74L238.38,325.74L238.38,326.40L239.52,326.40L239.52,327.72L240.67,327.72L240.67,329.04L241.82,329.04L241.82,331.02L242.96,331.02L242.96,333.66L244.11,333.66L244.11,335.97L245.25,335.97L245.25,340.26L246.40,340.26L246.40,336.30Z" fill="#1a4c84"/>
<line x1="247.50" y1="296.00" x2="247.50" y2="376.20" stroke="#9c9c9c" stroke-width="0.8"/>
<path d="M248.00,336.30L248.00,309.90L249.15,309.90L249.15,312.54L250.30,312.54L250.30,315.18L251.45,315.18L251.45,319.14L252.60,319.14L252.60,321.78L253.75,321.78L253.75,333.66L254.90,333.66L254.90,335.64L256.05,335.64L256.05,336.30L257.20,336.30L257.20,336.30L258.35,336.30L258.35,336.30L259.50,336.30L259.50,340.26L260.65,340.26L260.65,336.30L261.80,336.30L261.80,336.30Z" fill="#2ea83f"/>
<line x1="263.50" y1="296.00" x2="263.50" y2="376.20" stroke="#9c9c9c" stroke-width="0.8"/>
<path d="M264.50,336.30L264.50,317.16L265.65,317.16L265.65,317.16L266.80,317.16L266.80,318.48L267.95,318.48L267.95,319.14L269.10,319.14L269.10,319.14L270.25,319.14L270.25,319.80L271.40,319.80L271.40,335.64L272.55,335.64L272.55,336.30L273.70,336.30L273.70,336.96L274.85,336.96L274.85,349.50L276.00,349.50L276.00,349.50L277.15,349.50L277.15,336.30Z" fill="#b3742d"/>
<line x1="280.50" y1="296.00" x2="280.50" y2="376.20" stroke="#9c9c9c" stroke-width="0.8"/>
<path d="M281.00,336.30L281.00,329.70L282.06,329.70L282.06,330.36L283.13,330.36L283.13,332.34L284.19,332.34L284.19,334.98L285.26,334.98L285.26,338.28L286.32,338.28L286.32,340.26L287.39,340.26L287.39,341.58L288.45,341.58L288.45,342.90L289.51,342.90L289.51,343.56L290.58,343.56L290.58,344.88L291.64,344.88L291.64,346.20L292.71,346.20L292.71,347.52L293.77,347.52L293.77,348.84L294.84,348.84L294.84,349.50L295.90,349.50L295.90,336.30Z" fill="#d5147b"/>
<line x1="296.50" y1="296.00" x2="296.50" y2="376.20" stroke="#9c9c9c" stroke-width="0.8"/>
<path d="M297.50,336.30L297.50,322.44L298.65,322.44L298.65,334.32L299.79,334.32L299.79,336.96L300.94,336.96L300.94,338.28L302.08,338.28L302.08,339.60L303.23,339.60L303.23,340.26L304.38,340.26L304.38,340.92L305.52,340.92L305.52,341.58L306.67,341.58L306.67,342.24L307.82,342.24L307.82,342.90L308.96,342.90L308.96,344.22L310.11,344.22L310.11,345.54L311.25,345.54L311.25,346.86L312.40,346.86L312.40,336.30Z" fill="#bebebf"/>
<line x1="313.50" y1="296.00" x2="313.50" y2="376.20" stroke="#9c9c9c" stroke-width="0.8"/>
<path d="M314.00,336.30L314.00,325.74L315.15,325.74L315.15,326.40L316.29,326.40L316.29,334.32L317.44,334.32L317.44,338.28L318.58,338.28L318.58,340.26L319.73,340.26L319.73,341.58L320.88,341.58L320.88,342.90L322.02,342.90L322.02,342.90L323.17,342.90L323.17,342.90L324.32,342.90L324.32,343.56L325.46,343.56L325.46,344.22L326.61,344.22L326.61,344.88L327.75,344.88L327.75,352.14L328.90,352.14L328.90,336.30Z" fill="#f1bdd5"/>
<line x1="197.90" y1="336.30" x2="329.90" y2="336.30" stroke="#231f20" stroke-width="0.9"/>
<line x1="197.40" y1="376.20" x2="330.40" y2="376.20" stroke="#231f20" stroke-width="1.1"/>
<text x="208.80" y="284.00" font-size="5.3" text-anchor="middle" textLength="8.80" lengthAdjust="spacingAndGlyphs" font-style="italic">25%</text>
<text x="224.40" y="284.00" font-size="5.3" text-anchor="middle" textLength="8.80" lengthAdjust="spacingAndGlyphs" font-style="italic">44%</text>
<text x="239.20" y="284.00" font-size="5.3" text-anchor="middle" textLength="8.80" lengthAdjust="spacingAndGlyphs" font-style="italic">13%</text>
<text x="255.80" y="284.00" font-size="5.3" text-anchor="middle" textLength="8.80" lengthAdjust="spacingAndGlyphs" font-style="italic">33%</text>
<text x="271.00" y="284.00" font-size="5.3" text-anchor="middle" textLength="8.80" lengthAdjust="spacingAndGlyphs" font-style="italic">43%</text>
<text x="289.20" y="284.00" font-size="5.3" text-anchor="middle" textLength="8.80" lengthAdjust="spacingAndGlyphs" font-style="italic">75%</text>
<text x="305.90" y="284.00" font-size="5.3" text-anchor="middle" textLength="8.80" lengthAdjust="spacingAndGlyphs" font-style="italic">88%</text>
<text x="322.80" y="284.00" font-size="5.3" text-anchor="middle" textLength="8.80" lengthAdjust="spacingAndGlyphs" font-style="italic">78%</text>
<line x1="207.60" y1="289.00" x2="322.50" y2="289.00" stroke="#555" stroke-width="0.6"/>
<line x1="322.50" y1="289.00" x2="322.50" y2="302.90" stroke="#555" stroke-width="0.6"/>
<text x="270.50" y="289.60" font-size="6.0" text-anchor="middle">*</text>
<line x1="207.60" y1="294.50" x2="306.00" y2="294.50" stroke="#555" stroke-width="0.6"/>
<line x1="306.00" y1="294.50" x2="306.00" y2="311.30" stroke="#555" stroke-width="0.6"/>
<text x="258.70" y="295.10" font-size="6.0" text-anchor="middle">*</text>
<line x1="207.60" y1="300.40" x2="289.60" y2="300.40" stroke="#555" stroke-width="0.6"/>
<line x1="289.60" y1="300.40" x2="289.60" y2="317.20" stroke="#555" stroke-width="0.6"/>
<text x="245.00" y="301.00" font-size="6.0" text-anchor="middle">*</text>
<line x1="207.60" y1="289.00" x2="207.60" y2="317.00" stroke="#555" stroke-width="0.6"/>
<line x1="207.70" y1="306.60" x2="222.50" y2="306.60" stroke="#555" stroke-width="0.6"/>
<line x1="222.50" y1="302.50" x2="222.50" y2="328.00" stroke="#555" stroke-width="0.6"/>
<text x="210.40" y="305.40" font-size="4.4" textLength="13.00" lengthAdjust="spacingAndGlyphs"><tspan font-style="italic">P</tspan> = .22</text>
<line x1="366.60" y1="292.40" x2="366.60" y2="376.90" stroke="#231f20" stroke-width="1.1"/>
<line x1="364.00" y1="295.34" x2="366.60" y2="295.34" stroke="#231f20" stroke-width="0.7"/>
<text x="362.20" y="297.34" font-size="5.6" text-anchor="end">6</text>
<line x1="364.00" y1="308.86" x2="366.60" y2="308.86" stroke="#231f20" stroke-width="0.7"/>
<text x="362.20" y="310.86" font-size="5.6" text-anchor="end">4</text>
<line x1="364.00" y1="322.38" x2="366.60" y2="322.38" stroke="#231f20" stroke-width="0.7"/>
<text x="362.20" y="324.38" font-size="5.6" text-anchor="end">2</text>
<line x1="364.00" y1="335.90" x2="366.60" y2="335.90" stroke="#231f20" stroke-width="0.7"/>
<text x="362.20" y="337.90" font-size="5.6" text-anchor="end">0</text>
<line x1="364.00" y1="349.42" x2="366.60" y2="349.42" stroke="#231f20" stroke-width="0.7"/>
<text x="362.20" y="351.42" font-size="5.6" text-anchor="end">−2</text>
<line x1="364.00" y1="362.94" x2="366.60" y2="362.94" stroke="#231f20" stroke-width="0.7"/>
<text x="362.20" y="364.94" font-size="5.6" text-anchor="end">−4</text>
<line x1="364.00" y1="376.46" x2="366.60" y2="376.46" stroke="#231f20" stroke-width="0.7"/>
<text x="362.20" y="378.46" font-size="5.6" text-anchor="end">−6</text>
<path d="M367.20,335.90L367.20,314.94L368.35,314.94L368.35,315.62L369.50,315.62L369.50,316.30L370.65,316.30L370.65,317.65L371.80,317.65L371.80,319.00L372.95,319.00L372.95,319.68L374.10,319.68L374.10,335.56L375.25,335.56L375.25,335.90L376.40,335.90L376.40,340.63L377.55,340.63L377.55,335.90Z" fill="#f6c212"/>
<text x="374.98" y="301.30" font-size="5.3" text-anchor="middle" font-style="italic">n.d.</text>
<line x1="383.50" y1="296.00" x2="383.50" y2="376.40" stroke="#9c9c9c" stroke-width="0.8"/>
<path d="M383.95,335.90L383.95,312.24L385.03,312.24L385.03,312.24L386.11,312.24L386.11,334.55L387.20,334.55L387.20,335.22L388.28,335.22L388.28,342.66L389.36,342.66L389.36,343.34L390.44,343.34L390.44,344.69L391.53,344.69L391.53,349.42L392.61,349.42L392.61,350.77L393.69,350.77L393.69,352.12L394.77,352.12L394.77,352.80L395.85,352.80L395.85,354.15L396.94,354.15L396.94,355.50L398.02,355.50L398.02,358.21L399.10,358.21L399.10,335.90Z" fill="#4a1d6b"/>
<text x="391.73" y="301.30" font-size="5.3" text-anchor="middle" font-style="italic">78%</text>
<line x1="400.50" y1="296.00" x2="400.50" y2="376.40" stroke="#9c9c9c" stroke-width="0.8"/>
<path d="M400.70,335.90L400.70,307.51L401.85,307.51L401.85,309.54L403.00,309.54L403.00,311.56L404.15,311.56L404.15,314.27L405.30,314.27L405.30,316.30L406.45,316.30L406.45,318.32L407.60,318.32L407.60,321.03L408.75,321.03L408.75,335.22L409.90,335.22L409.90,335.90L411.05,335.90L411.05,337.93L412.20,337.93L412.20,340.63L413.35,340.63L413.35,335.90Z" fill="#1a4c84"/>
<text x="408.48" y="301.30" font-size="5.3" text-anchor="middle" font-style="italic">33%</text>
<line x1="416.50" y1="296.00" x2="416.50" y2="376.40" stroke="#9c9c9c" stroke-width="0.8"/>
<path d="M417.45,335.90L417.45,320.35L418.60,320.35L418.60,321.70L419.75,321.70L419.75,323.06L420.90,323.06L420.90,324.41L422.05,324.41L422.05,325.76L423.20,325.76L423.20,326.44L424.35,326.44L424.35,327.11L425.50,327.11L425.50,335.90Z" fill="#2ea83f"/>
<text x="425.23" y="301.30" font-size="5.3" text-anchor="middle" font-style="italic">n.d.</text>
<line x1="433.50" y1="296.00" x2="433.50" y2="376.40" stroke="#9c9c9c" stroke-width="0.8"/>
<path d="M434.20,335.90L434.20,306.16L435.35,306.16L435.35,327.11L436.50,327.11L436.50,335.22L437.65,335.22L437.65,337.93L438.80,337.93L438.80,339.28L439.95,339.28L439.95,341.31L441.10,341.31L441.10,345.36L442.25,345.36L442.25,335.90Z" fill="#b3742d"/>
<text x="441.98" y="301.30" font-size="5.3" text-anchor="middle" font-style="italic">n.d.</text>
<line x1="450.50" y1="296.00" x2="450.50" y2="376.40" stroke="#9c9c9c" stroke-width="0.8"/>
<path d="M450.95,335.90L450.95,337.25L452.10,337.25L452.10,339.28L453.25,339.28L453.25,341.98L454.40,341.98L454.40,344.69L455.55,344.69L455.55,346.72L456.70,346.72L456.70,348.74L457.85,348.74L457.85,350.10L459.00,350.10L459.00,351.45L460.15,351.45L460.15,352.80L461.30,352.80L461.30,354.15L462.45,354.15L462.45,355.50L463.60,355.50L463.60,356.86L464.75,356.86L464.75,335.90Z" fill="#d5147b"/>
<text x="458.73" y="301.30" font-size="5.3" text-anchor="middle" font-style="italic">100%</text>
<line x1="467.50" y1="296.00" x2="467.50" y2="376.40" stroke="#9c9c9c" stroke-width="0.8"/>
<path d="M467.70,335.90L467.70,321.03L468.85,321.03L468.85,335.90L470.00,335.90L470.00,337.93L471.15,337.93L471.15,339.96L472.30,339.96L472.30,341.98L473.45,341.98L473.45,343.34L474.60,343.34L474.60,344.69L475.75,344.69L475.75,346.04L476.90,346.04L476.90,347.39L478.05,347.39L478.05,348.74L479.20,348.74L479.20,349.42L480.35,349.42L480.35,367.00L481.50,367.00L481.50,335.90Z" fill="#bebebf"/>
<text x="475.48" y="301.30" font-size="5.3" text-anchor="middle" font-style="italic">89%</text>
<line x1="483.50" y1="296.00" x2="483.50" y2="376.40" stroke="#9c9c9c" stroke-width="0.8"/>
<path d="M484.45,335.90L484.45,313.59L485.60,313.59L485.60,316.97L486.75,316.97L486.75,319.00L487.90,319.00L487.90,334.55L489.05,334.55L489.05,338.60L490.20,338.60L490.20,340.63L491.35,340.63L491.35,342.66L492.50,342.66L492.50,344.69L493.65,344.69L493.65,346.72L494.80,346.72L494.80,348.74L495.95,348.74L495.95,350.10L497.10,350.10L497.10,351.45L498.25,351.45L498.25,335.90Z" fill="#f1bdd5"/>
<text x="492.23" y="301.30" font-size="5.3" text-anchor="middle" font-style="italic">78%</text>
<line x1="366.60" y1="335.90" x2="500.60" y2="335.90" stroke="#231f20" stroke-width="0.9"/>
<line x1="366.10" y1="376.40" x2="501.10" y2="376.40" stroke="#231f20" stroke-width="1.1"/>
<rect x="15.80" y="394.70" width="5.40" height="5.40" fill="#3a434f"/>
<text x="25.00" y="399.90" font-size="6.0" textLength="18.50" lengthAdjust="spacingAndGlyphs">Vehicle</text>
<rect x="53.40" y="394.70" width="5.40" height="5.40" fill="#f6c212"/>
<text x="61.30" y="399.90" font-size="6.0" textLength="45.20" lengthAdjust="spacingAndGlyphs">Gpt + glofitamab</text>
<rect x="115.80" y="394.70" width="5.40" height="5.40" fill="#4a1d6b"/>
<text x="124.80" y="399.90" font-size="6.0" textLength="89.00" lengthAdjust="spacingAndGlyphs">Gpt + glofitamab + CD19-4-1BBL</text>
<rect x="15.80" y="403.90" width="5.40" height="5.40" fill="#1a4c84"/>
<text x="25.00" y="409.10" font-size="6.0" textLength="77.40" lengthAdjust="spacingAndGlyphs">Gpt + glofitamab + PD1-Lag3</text>
<rect x="115.80" y="403.90" width="5.40" height="5.40" fill="#2ea83f"/>
<text x="124.80" y="409.10" font-size="6.0" textLength="74.20" lengthAdjust="spacingAndGlyphs">Gpt + glofitamab + a-CD25</text>
<rect x="15.80" y="413.30" width="5.40" height="5.40" fill="#b3742d"/>
<text x="25.00" y="418.50" font-size="6.0" textLength="83.80" lengthAdjust="spacingAndGlyphs">Gpt + glofitamab + CD19-CD28</text>
<rect x="115.80" y="413.30" width="5.40" height="5.40" fill="#d5147b"/>
<text x="124.80" y="418.50" font-size="6.0" textLength="120.20" lengthAdjust="spacingAndGlyphs">Gpt + glofitamab + CD19-4-1BBL + PD1-Lag3</text>
<rect x="15.80" y="422.50" width="5.40" height="5.40" fill="#bebebf"/>
<text x="25.00" y="427.70" font-size="6.0" textLength="114.50" lengthAdjust="spacingAndGlyphs">Gpt + glofitamab + CD19-4-1BBL + a-CD25</text>
<rect x="15.80" y="431.70" width="5.40" height="5.40" fill="#f1bdd5"/>
<text x="25.00" y="436.90" font-size="6.0" textLength="126.00" lengthAdjust="spacingAndGlyphs">Gpt + glofitamab + CD19-4-1BBL + CD19-CD28</text>
</g>
<rect x="0.5" y="0.5" width="519" height="443" fill="none" stroke="#5e5e5e" stroke-width="1"/>
</svg>
</body></html>
